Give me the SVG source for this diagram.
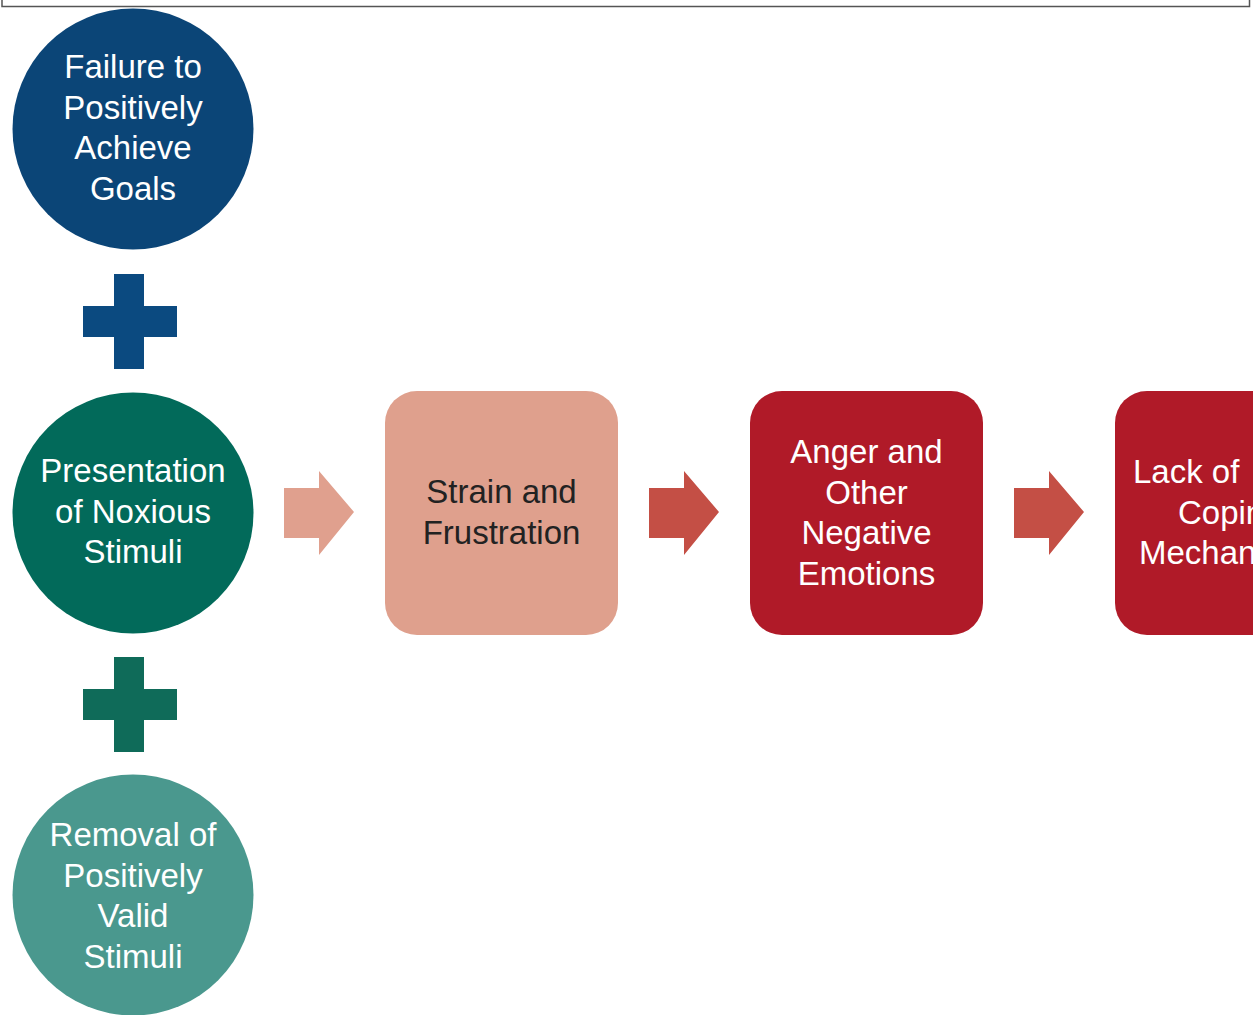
<svg xmlns="http://www.w3.org/2000/svg" width="1253" height="1015" viewBox="0 0 1253 1015">
<style>
text{font-family:"Liberation Sans",Arial,Helvetica,sans-serif;font-size:33px;text-anchor:middle}
.w{fill:#ffffff}
.d{fill:#222222}
</style>
<defs>
<path id="arr" d="M0,17 H35 V0 L70,41 L35,84 V67 H0 Z"/>
<path id="plus" d="M31,0 H61 V32 H94 V63 H61 V95 H31 V63 H0 V32 H31 Z"/>
</defs>
<rect width="1253" height="1015" fill="#ffffff"/>
<rect x="2" y="-10" width="1247.5" height="16.5" fill="none" stroke="#555555" stroke-width="1.5"/>
<g id="connectors">
<use href="#plus" x="83" y="274" fill="#0b4a80"/>
<use href="#plus" x="83" y="657" fill="#0f6b59"/>
<use href="#arr" x="284" y="471" fill="#e0a08e"/>
<use href="#arr" x="649" y="471" fill="#c44f45"/>
<use href="#arr" x="1014" y="471" fill="#c44f45"/>
</g>
<g id="node-failure">
<circle cx="133" cy="129" r="120.5" fill="#0b4577"/>
<text class="w" x="133" y="78">Failure to</text>
<text class="w" x="133" y="118.5">Positively</text>
<text class="w" x="133" y="159">Achieve</text>
<text class="w" x="133" y="199.5">Goals</text>
</g>
<g id="node-presentation">
<circle cx="133" cy="513" r="120.5" fill="#026a5a"/>
<text class="w" x="133" y="482">Presentation</text>
<text class="w" x="133" y="522.5">of Noxious</text>
<text class="w" x="133" y="563">Stimuli</text>
</g>
<g id="node-removal">
<circle cx="133" cy="895" r="120.5" fill="#4a988e"/>
<text class="w" x="133" y="846">Removal of</text>
<text class="w" x="133" y="886.5">Positively</text>
<text class="w" x="133" y="927">Valid</text>
<text class="w" x="133" y="967.5">Stimuli</text>
</g>
<g id="node-strain">
<rect x="385" y="391" width="233" height="244" rx="32" fill="#dfa08d"/>
<text class="d" x="501.5" y="503">Strain and</text>
<text class="d" x="501.5" y="543.5">Frustration</text>
</g>
<g id="node-anger">
<rect x="750" y="391" width="233" height="244" rx="32" fill="#b01a28"/>
<text class="w" x="866.5" y="463">Anger and</text>
<text class="w" x="866.5" y="503.5">Other</text>
<text class="w" x="866.5" y="544">Negative</text>
<text class="w" x="866.5" y="584.5">Emotions</text>
</g>
<g id="node-lack">
<rect x="1115" y="391" width="233" height="244" rx="32" fill="#b01a28"/>
<text class="w" x="1133" y="483" style="text-anchor:start">Lack of</text>
<text class="w" x="1178" y="523.5" style="text-anchor:start">Coping</text>
<text class="w" x="1139" y="564" style="text-anchor:start">Mechanisms</text>
</g>
</svg>
